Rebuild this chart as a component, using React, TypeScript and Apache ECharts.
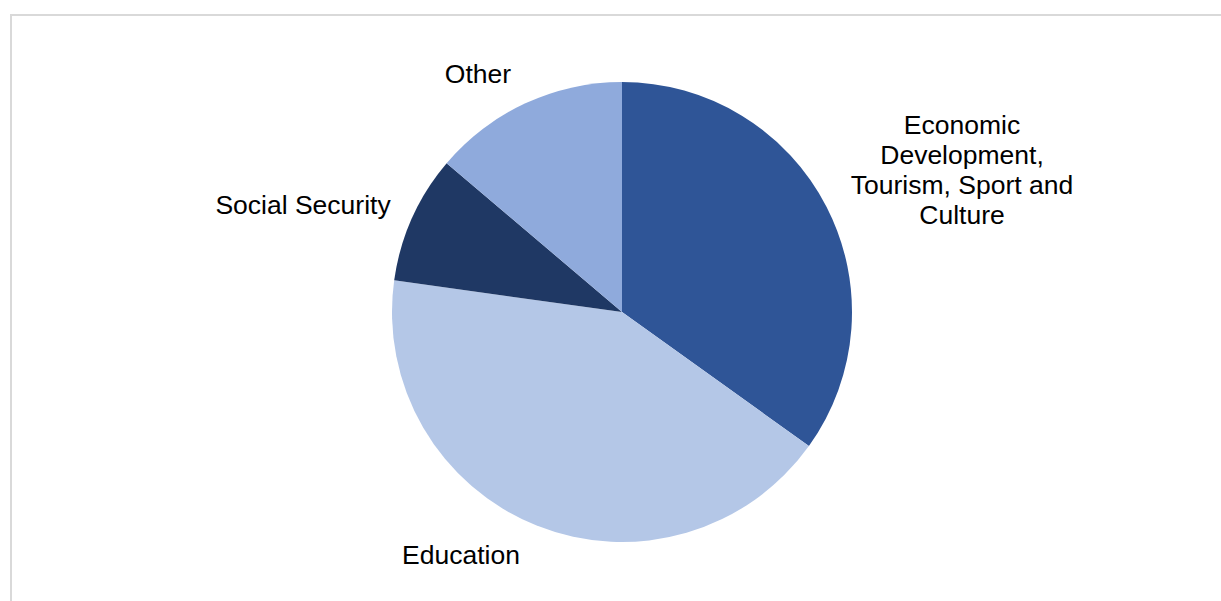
import React, { useEffect, useRef } from "react";
import * as echarts from "echarts";

const categories = [
  "Economic Development, Tourism, Sport and Culture",
  "Education",
  "Social Security",
  "Other",
];
const values = [34.9, 42.3, 9.0, 13.8];
const colors = ["#2F5597", "#B4C7E7", "#1F3864", "#8FAADC"];
const labelTexts = [
  "Economic\nDevelopment,\nTourism, Sport and\nCulture",
  "Education",
  "Social Security",
  "Other",
];
const labelPositions: [number, number][] = [
  [962, 170],
  [461, 555],
  [303, 205],
  [478, 74],
];

export default function App() {
  const ref = useRef<HTMLDivElement>(null);
  useEffect(() => {
    if (!ref.current) return;
    const chart = echarts.init(ref.current, undefined, { renderer: "svg" });
    chart.setOption({
      animation: false,
      backgroundColor: "#ffffff",
      graphic: [
        {
          type: "rect",
          shape: { x: 11, y: 15, width: 1400, height: 800 },
          style: { fill: "none", stroke: "#D9D9D9", lineWidth: 2 },
          silent: true,
          z: -1,
        },
      ],
      series: [
        {
          type: "pie",
          center: [622, 312],
          radius: 230,
          startAngle: 90,
          clockwise: true,
          avoidLabelOverlap: false,
          itemStyle: { borderWidth: 0 },
          label: {
            show: true,
            position: "outside",
            color: "#000000",
            fontFamily: "Liberation Sans, Arial, sans-serif",
            fontSize: 26.5,
            lineHeight: 30,
            align: "center",
            formatter: (p: any) => labelTexts[p.dataIndex],
          },
          labelLine: { show: false },
          labelLayout: (p: any) => {
            const pos = labelPositions[p.dataIndex];
            return { x: pos[0], y: pos[1], align: "center", verticalAlign: "middle" };
          },
          emphasis: { disabled: true },
          data: categories.map((name, i) => ({
            name,
            value: values[i],
            itemStyle: { color: colors[i] },
          })),
        },
      ],
    });
    return () => chart.dispose();
  }, []);
  return (
    <div
      ref={ref}
      style={{ position: "absolute", left: 0, top: 0, width: 1221, height: 601 }}
    />
  );
}
